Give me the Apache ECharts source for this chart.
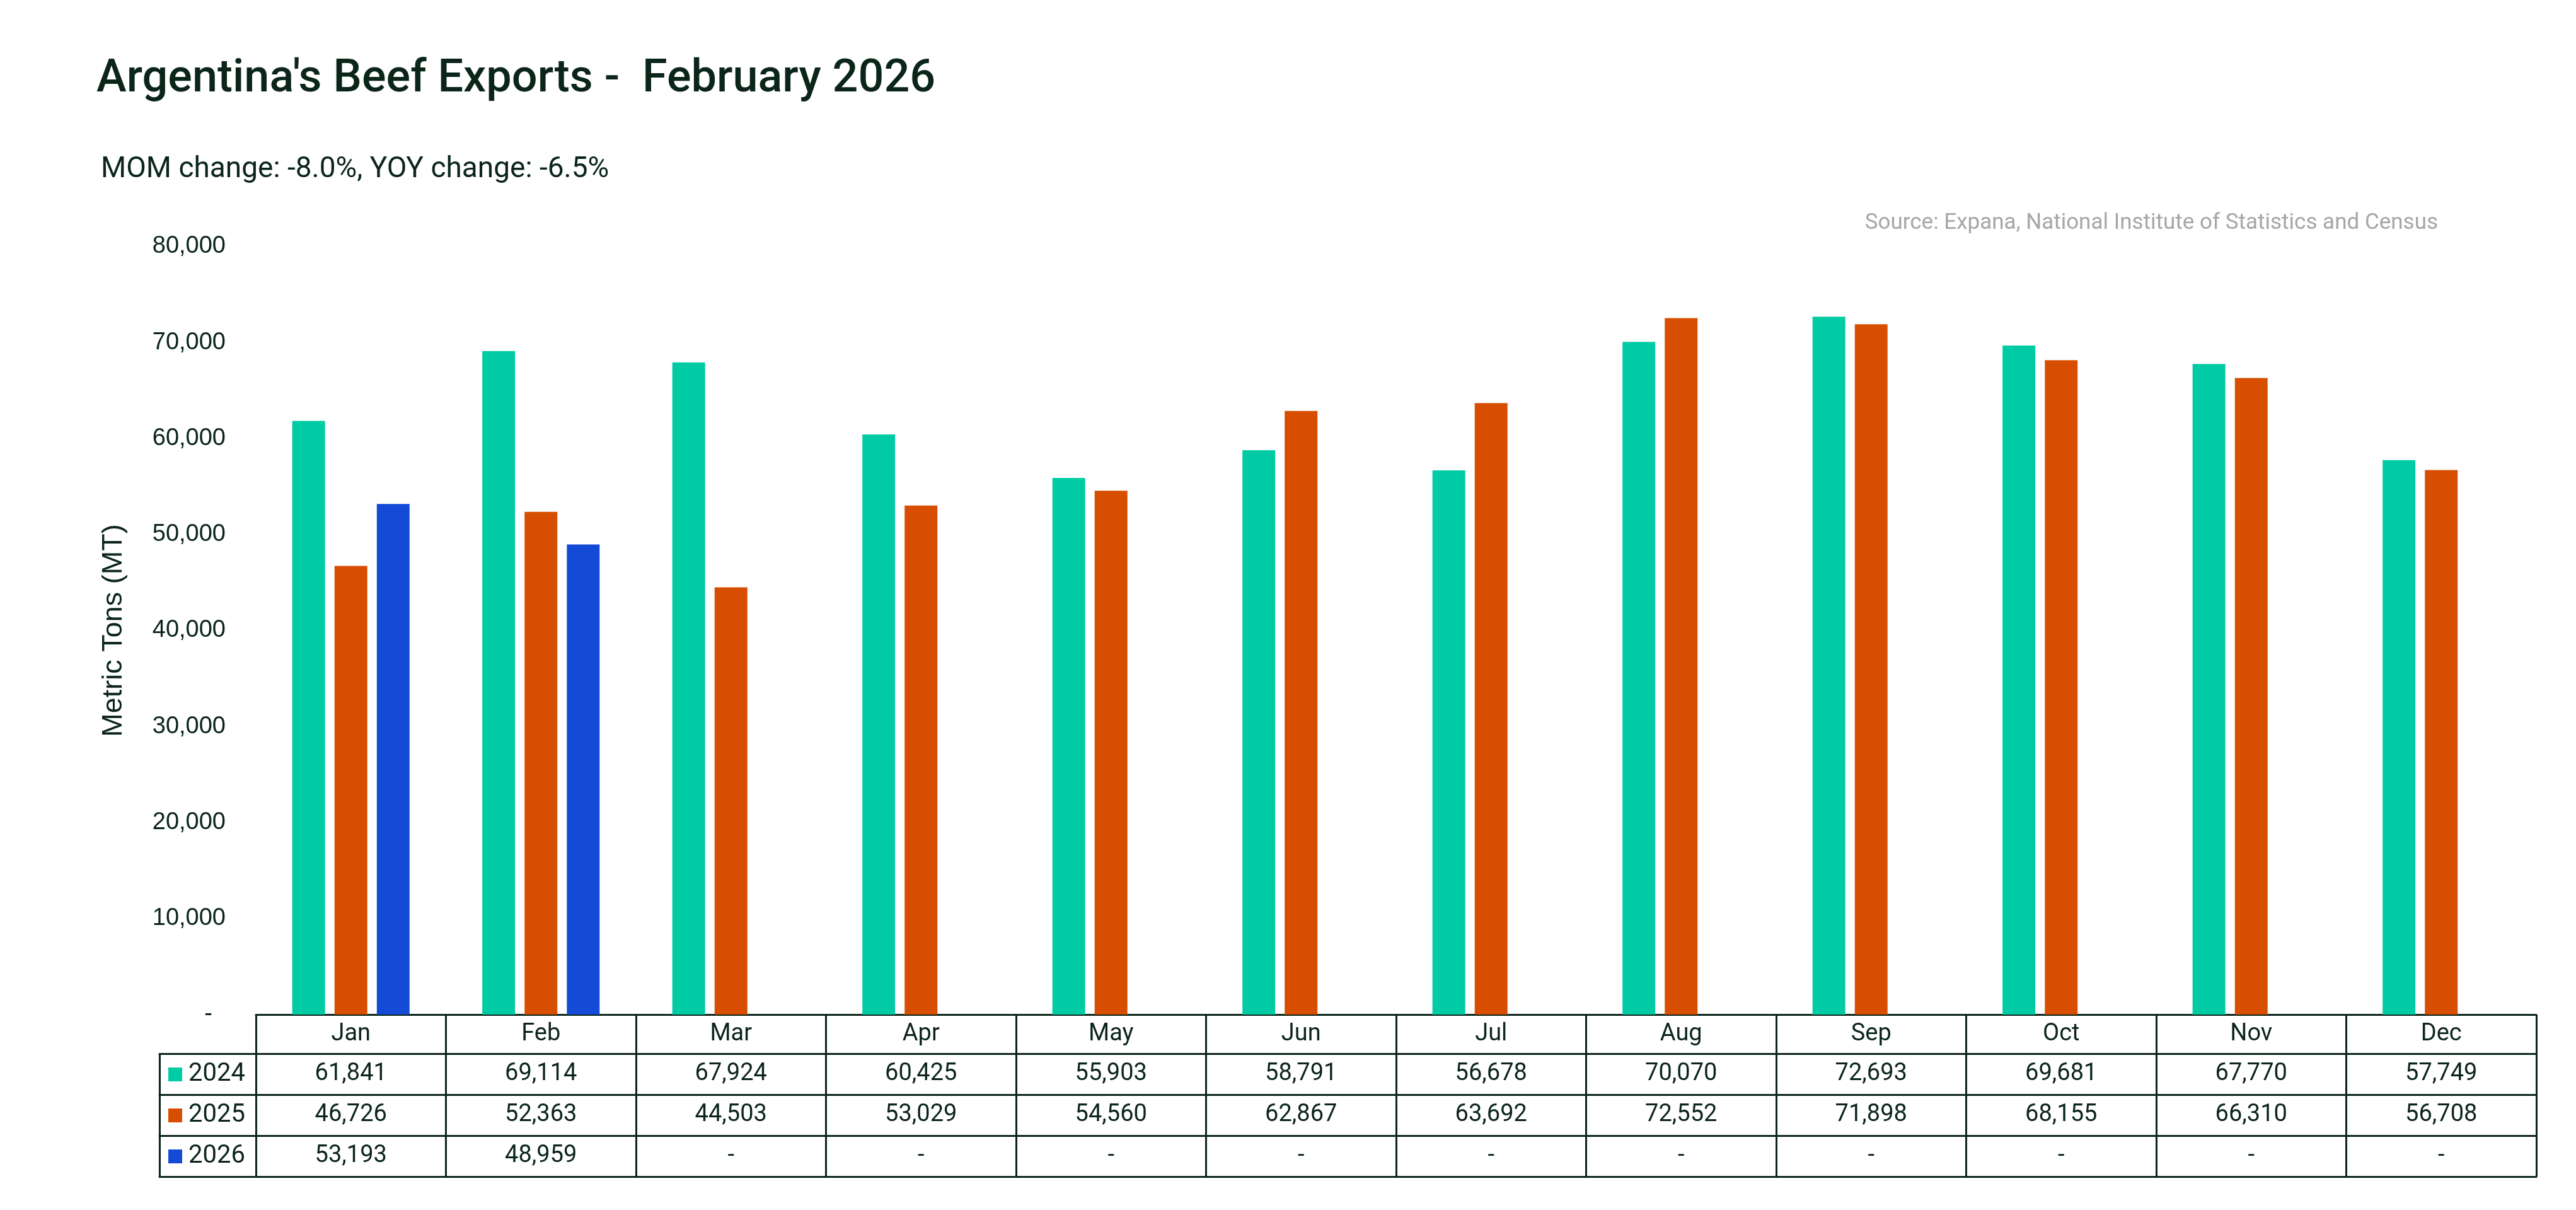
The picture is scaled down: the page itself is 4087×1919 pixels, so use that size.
<!DOCTYPE html>
<html>
<head>
<meta charset="utf-8">
<script src="https://cdn.jsdelivr.net/npm/echarts@6/dist/echarts.min.js"></script>
<style>
html,body{margin:0;padding:0;background:#fff;}
#chart{width:4087px;height:1919px;}
</style>
</head>
<body>
<div id="chart"></div>
<script>
// ---- data ----
const months = ['Jan','Feb','Mar','Apr','May','Jun','Jul','Aug','Sep','Oct','Nov','Dec'];
const exports2024 = [61841, 69114, 67924, 60425, 55903, 58791, 56678, 70070, 72693, 69681, 67770, 57749];
const exports2025 = [46726, 52363, 44503, 53029, 54560, 62867, 63692, 72552, 71898, 68155, 66310, 56708];
const exports2026 = [53193, 48959, null, null, null, null, null, null, null, null, null, null];
const seriesNames = ['2024', '2025', '2026'];
const seriesColors = ['#00CBA5', '#D74E00', '#134BD6'];
const yMin = 0, yMax = 80000, yInterval = 10000;

// ---- layout / style ----
const W = 4087, H = 1919;
const ink = '#0b2519';
const gridLeft = 406, gridRight = W - 4024, gridTop = 391, gridBottom = H - 1609;
const legendColLeft = 253;
const rowOffsets = [0, 62, 127, 192, 257];
const rowHeights = [62, 65, 65, 65];
const lineW = 3;
const tableFont = 'Roboto';

const fmt = v => (v === null || v === undefined) ? '-' : v.toLocaleString('en-US');
const rowValues = [null, exports2024, exports2025, exports2026];

function tableAxis(gridIndex, data, r, labelFn) {
  const isLast = r === rowOffsets.length - 1;
  return {
    type: 'category',
    gridIndex: gridIndex,
    data: data,
    position: 'bottom',
    offset: rowOffsets[r],
    boundaryGap: true,
    axisLine: { show: true, onZero: false, lineStyle: { color: ink, width: lineW } },
    axisTick: {
      show: !isLast,
      interval: 0,
      alignWithLabel: false,
      inside: false,
      length: isLast ? 0 : rowHeights[r],
      lineStyle: { color: ink, width: lineW }
    },
    axisLabel: {
      show: !!labelFn,
      interval: 0,
      margin: isLast ? 0 : rowHeights[r] / 2,
      verticalAlign: 'middle',
      fontFamily: tableFont,
      fontSize: 38,
      color: ink,
      formatter: labelFn || (() => '')
    },
    splitLine: { show: false }
  };
}

const xAxes = [];
// main table (grid 0)
xAxes.push(tableAxis(0, months, 0, (v) => v));
for (let r = 1; r <= 3; r++) {
  const vals = rowValues[r];
  xAxes.push(tableAxis(0, months, r, (v, i) => fmt(vals[i])));
}
xAxes.push(tableAxis(0, months, 4, null));
// legend column (grid 1), rows 1..4
for (let r = 1; r <= 4; r++) {
  xAxes.push(tableAxis(1, [''], r, null));
}

const option = {
  animation: false,
  backgroundColor: '#fff',
  title: [
    {
      text: "Argentina's Beef Exports -  February 2026",
      left: 148, top: 86,
      textStyle: { fontFamily: 'Roboto', fontWeight: 500, fontSize: 72, lineHeight: 72, color: ink }
    },
    {
      text: 'MOM change: -8.0%, YOY change: -6.5%',
      left: 155, top: 241,
      textStyle: { fontFamily: 'Roboto', fontWeight: 400, fontSize: 46, lineHeight: 46, color: ink }
    },
    {
      text: 'Source: Expana, National Institute of Statistics and Census',
      right: W - 3868 - 5, top: 332,
      textStyle: { fontFamily: 'Roboto', fontWeight: 400, fontSize: 35, lineHeight: 35, color: '#a6a6a6' }
    }
  ],
  legend: {
    orient: 'vertical',
    left: legendColLeft + 9,
    top: 1679,
    itemWidth: 22,
    itemHeight: 22,
    itemGap: 25,
    icon: 'rect',
    selectedMode: false,
    data: seriesNames,
    textStyle: { fontFamily: tableFont, fontSize: 40, lineHeight: 40, color: ink, padding: [0, 0, 0, 5] }
  },
  grid: [
    { left: gridLeft, right: gridRight, top: gridTop, bottom: gridBottom, containLabel: false },
    { left: legendColLeft, right: W - gridLeft, top: gridTop, bottom: gridBottom, containLabel: false }
  ],
  xAxis: xAxes,
  yAxis: [
    {
      type: 'value',
      gridIndex: 0,
      min: yMin, max: yMax, interval: yInterval,
      name: 'Metric Tons (MT)',
      nameLocation: 'middle',
      nameGap: 203,
      nameRotate: 90,
      nameTextStyle: { fontFamily: 'Liberation Sans', fontSize: 45, color: ink },
      axisLine: { show: false },
      axisTick: { show: false },
      splitLine: { show: false },
      axisLabel: {
        margin: 48,
        fontFamily: 'Liberation Sans',
        fontSize: 38,
        color: ink,
        formatter: v => v === 0 ? '-  ' : v.toLocaleString('en-US')
      }
    },
    {
      type: 'value', gridIndex: 1, show: false, min: 0, max: 1
    }
  ],
  series: [
    { name: seriesNames[0], type: 'bar', xAxisIndex: 0, yAxisIndex: 0, data: exports2024, barWidth: 52, barGap: '29%', itemStyle: { color: seriesColors[0] } },
    { name: seriesNames[1], type: 'bar', xAxisIndex: 0, yAxisIndex: 0, data: exports2025, barWidth: 52, barGap: '29%', itemStyle: { color: seriesColors[1] } },
    { name: seriesNames[2], type: 'bar', xAxisIndex: 0, yAxisIndex: 0, data: exports2026, barWidth: 52, barGap: '29%', itemStyle: { color: seriesColors[2] } }
  ]
};

const chart = echarts.init(document.getElementById('chart'), null, { renderer: 'canvas', width: W, height: H });
chart.setOption(option);
</script>
</body>
</html>
